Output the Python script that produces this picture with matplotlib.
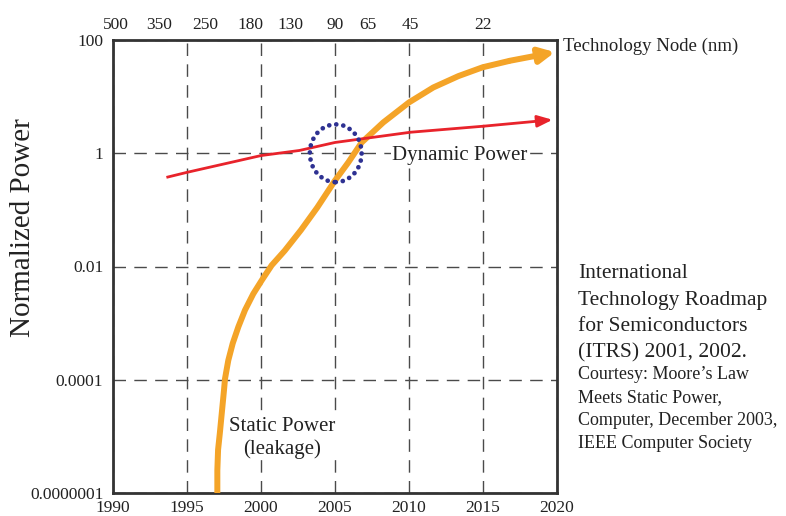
import numpy as np
import matplotlib
matplotlib.use("Agg")
import matplotlib.pyplot as plt
from matplotlib.patches import Ellipse

plt.rcParams['font.family'] = ['Liberation Serif', 'DejaVu Serif']

# static power (leakage), orange curve
static_years = [1997.05, 1997.05, 1997.1, 1997.22, 1997.5, 1997.57, 1997.79,
                1998.09, 1998.47, 1998.92, 1999.48, 2000.05, 2000.72, 2001.6,
                2002.7, 2003.8, 2005.0, 2005.9, 2006.8, 2008.26, 2010.0,
                2011.64, 2013.33, 2014.98, 2016.82, 2019.86]
static_vals = [1e-7, 4e-7, 1.4e-6, 3.9e-6, 5.3e-5, 1.05e-4, 2.2e-4,
               4.4e-4, 8.6e-4, 1.7e-3, 3.3e-3, 5.7e-3, 1.05e-2, 0.019,
               0.044, 0.11, 0.33, 0.69, 1.55, 3.5, 7.9,
               14.5, 23, 33, 43, 61]

# dynamic power, red curve
dyn_years = [1993.7, 1995.0, 2000.0, 2002.6, 2005.0, 2007.5, 2010.1, 2015.0, 2019.7]
dyn_vals = [0.38, 0.46, 0.91, 1.12, 1.55, 1.9, 2.35, 3.0, 3.9]

x_ticks = [1990, 1995, 2000, 2005, 2010, 2015, 2020]
y_ticks = [1e-7, 1e-4, 1e-2, 1, 100]
y_labels = ['0.0000001', '0.0001', '0.01', '1', '100']

node_years = [1990.2, 1993.1, 1996.2, 1999.3, 2002.0, 2005.0, 2007.2, 2010.1, 2015.0]
node_labels = ['500', '350', '250', '180', '130', '90', '65', '45', '22']

# uneven "log" axis: every labelled value is equally spaced
log_pts = np.log10(y_ticks)
pos_pts = np.arange(len(y_ticks))


def fwd(v):
    v = np.clip(np.asarray(v, dtype=float), 1e-300, None)
    return np.interp(np.log10(v), log_pts, pos_pts, left=-1, right=5)


def inv(p):
    return 10 ** np.interp(p, pos_pts, log_pts)


fig = plt.figure(figsize=(7.86, 5.16), dpi=100)
ax = fig.add_axes([113 / 786, 1 - 493 / 516, 444 / 786, 453 / 516])
ax.set_yscale('function', functions=(fwd, inv))
ax.set_xlim(1990, 2020)
ax.set_ylim(1e-7, 100)

ax.set_xticks(x_ticks)
ax.set_xticklabels([str(t) for t in x_ticks])
ax.set_yticks(y_ticks)
ax.set_yticklabels(y_labels)
ax.minorticks_off()
ax.tick_params(axis='x', length=0, pad=5, labelsize=12.5, labelcolor='#222222')
ax.tick_params(axis='y', length=0, pad=7, labelsize=12.5, labelcolor='#222222')
ax.grid(True, color='#4a4a4a', lw=1.0, linestyle=(0, (9, 6)), zorder=0)
for s in ax.spines.values():
    s.set_color('#333333')
    s.set_linewidth(2.0)

top = ax.secondary_xaxis('top')
top.set_xticks(node_years)
top.set_xticklabels(node_labels)
top.tick_params(length=0, pad=5, labelsize=12.5, labelcolor='#222222')
top.spines['top'].set_visible(False)

orange = '#f4a428'
red = '#e8232b'
ax.plot(static_years[:-1], static_vals[:-1], color=orange, lw=4.3,
        solid_capstyle='butt', solid_joinstyle='round', zorder=3)
ax.annotate('', xy=(static_years[-1], static_vals[-1]),
            xytext=(static_years[-2], static_vals[-2]),
            arrowprops=dict(arrowstyle='-|>,head_length=0.9,head_width=0.45',
                            color=orange, lw=4.3, shrinkA=0, shrinkB=0),
            zorder=3)
ax.plot(dyn_years[:-1], dyn_vals[:-1], color=red, lw=2.0,
        solid_joinstyle='round', zorder=4)
ax.annotate('', xy=(dyn_years[-1], dyn_vals[-1]),
            xytext=(dyn_years[-2], dyn_vals[-2]),
            arrowprops=dict(arrowstyle='-|>,head_length=0.9,head_width=0.35',
                            color=red, lw=2.0, shrinkA=0, shrinkB=0),
            zorder=4)

# dotted circle around the crossing point (drawn in scaled coordinates)
circ = Ellipse((2005.05, fwd(1.0)), width=3.5, height=0.51,
               transform=ax.transLimits + ax.transAxes,
               fill=False, edgecolor='#2e3192', lw=3.4,
               linestyle=(0, (0.01, 1.5)), zorder=5)
circ.set_capstyle('round')
ax.add_patch(circ)

box = dict(facecolor='white', edgecolor='none', pad=1)
ax.text(0.7815, 0.745, 'Dynamic Power', transform=ax.transAxes,
        ha='center', va='center', fontsize=15, color='#222222',
        bbox=box, zorder=2)
ax.text(0.381, 0.122, 'Static Power\n(leakage)', transform=ax.transAxes,
        ha='center', va='center', fontsize=15, color='#222222',
        linespacing=1.25, bbox=box, zorder=2)

fig.text(563 / 786, 1 - 46 / 516, 'Technology Node (nm)', ha='left',
         va='center', fontsize=13.5, color='#222222')
fig.text(23 / 786, 1 - 228 / 516, 'Normalized Power', rotation=90,
         ha='center', va='center', fontsize=21, color='#222222')

big_lines = ['International', 'Technology Roadmap', 'for Semiconductors',
             '(ITRS) 2001, 2002.']
big_base = [278, 305, 331, 357]
small_lines = ['Courtesy: Moore\u2019s Law', 'Meets Static Power,',
               'Computer, December 2003,', 'IEEE Computer Society']
small_base = [379, 402, 425, 448]
for s, b in zip(big_lines, big_base):
    fig.text(578 / 786, 1 - b / 516, s, ha='left', va='baseline',
             fontsize=15.5, color='#222222')
for s, b in zip(small_lines, small_base):
    fig.text(578 / 786, 1 - b / 516, s, ha='left', va='baseline',
             fontsize=13, color='#222222')

fig.savefig('out.png', dpi=100)
